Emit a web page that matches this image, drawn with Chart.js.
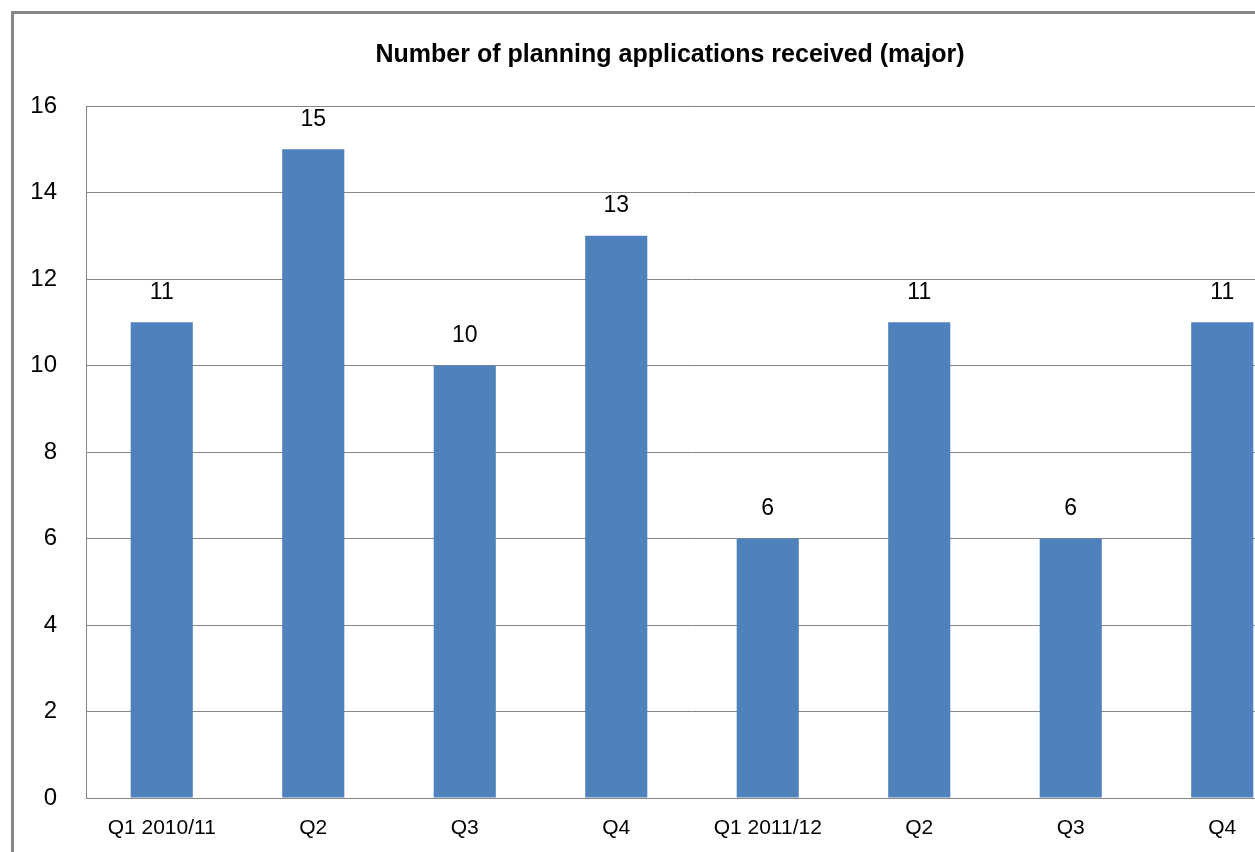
<!DOCTYPE html>
<html>
<head>
<meta charset="utf-8">
<script src="https://cdn.jsdelivr.net/npm/chart.js@4.4.1/dist/chart.umd.min.js"></script>
<style>
  html, body { margin: 0; padding: 0; background: #fff; overflow: hidden; }
  body { width: 1255px; height: 852px; position: relative; }
  #frame {
    position: absolute; left: 11px; top: 11px;
    width: 1400px; height: 1000px;
    border: 3px solid #868686; box-sizing: border-box;
  }
  #barChart { position: absolute; left: 0; top: 0; }
</style>
</head>
<body>
<div id="frame"></div>
<canvas id="barChart" width="1340" height="852"></canvas>
<script>
// ======================= DATA =======================
const quarters = ["Q1 2010/11", "Q2", "Q3", "Q4", "Q1 2011/12", "Q2", "Q3", "Q4"];
const received = [11, 15, 10, 13, 6, 11, 6, 11];
const yTicks = [0, 2, 4, 6, 8, 10, 12, 14, 16];

const gridGrey = "#868686";
const fontFamily = "'Liberation Sans', Arial, sans-serif";

// value labels above each bar
const valueLabels = {
  id: "valueLabels",
  afterDatasetsDraw(chart) {
    const ctx = chart.ctx;
    const meta = chart.getDatasetMeta(0);
    ctx.save();
    ctx.font = "23px " + fontFamily;
    ctx.fillStyle = "#000";
    ctx.textAlign = "center";
    ctx.textBaseline = "middle";
    meta.data.forEach((bar, i) => {
      ctx.fillText(String(received[i]), bar.x, bar.y - 30);
    });
    ctx.restore();
  },
};

new Chart(document.getElementById("barChart"), {
  type: "bar",
  data: {
    labels: quarters,
    datasets: [
      {
        data: received,
        backgroundColor: "#4F81BD",
        categoryPercentage: 1,
        barPercentage: 0.41,
      },
    ],
  },
  options: {
    responsive: false,
    animation: false,
    layout: { padding: 0 },
    scales: {
      y: {
        min: 0,
        max: 16,
        afterBuildTicks: (scale) => {
          scale.ticks = yTicks.map((v) => ({ value: v }));
        },
        afterFit: (scale) => { scale.width = 86; },
        ticks: { color: "#000", font: { family: fontFamily, size: 24 }, padding: 29 },
        grid: { color: gridGrey, lineWidth: 1, drawTicks: false },
        border: { color: gridGrey, width: 1 },
      },
      // empty right-hand spacer (the chart is cut off on the right)
      yRight: {
        position: "right",
        min: 0,
        max: 16,
        afterFit: (scale) => { scale.width = 42; },
        ticks: { display: false },
        grid: { display: false, drawTicks: false },
        border: { display: false },
      },
      x: {
        afterFit: (scale) => { scale.height = 54; },
        ticks: {
          color: "#000",
          font: { family: fontFamily, size: 21 },
          padding: 18,
          maxRotation: 0,
          autoSkip: false,
        },
        grid: { display: false, drawTicks: false },
        border: { color: gridGrey, width: 1 },
      },
    },
    plugins: {
      legend: { display: false },
      tooltip: { enabled: false },
      title: {
        display: true,
        text: "Number of planning applications received (major)",
        color: "#000",
        font: { family: fontFamily, size: 25, weight: "bold" },
        padding: { top: 40, bottom: 36 },
      },
    },
  },
  plugins: [valueLabels],
});
</script>
</body>
</html>
